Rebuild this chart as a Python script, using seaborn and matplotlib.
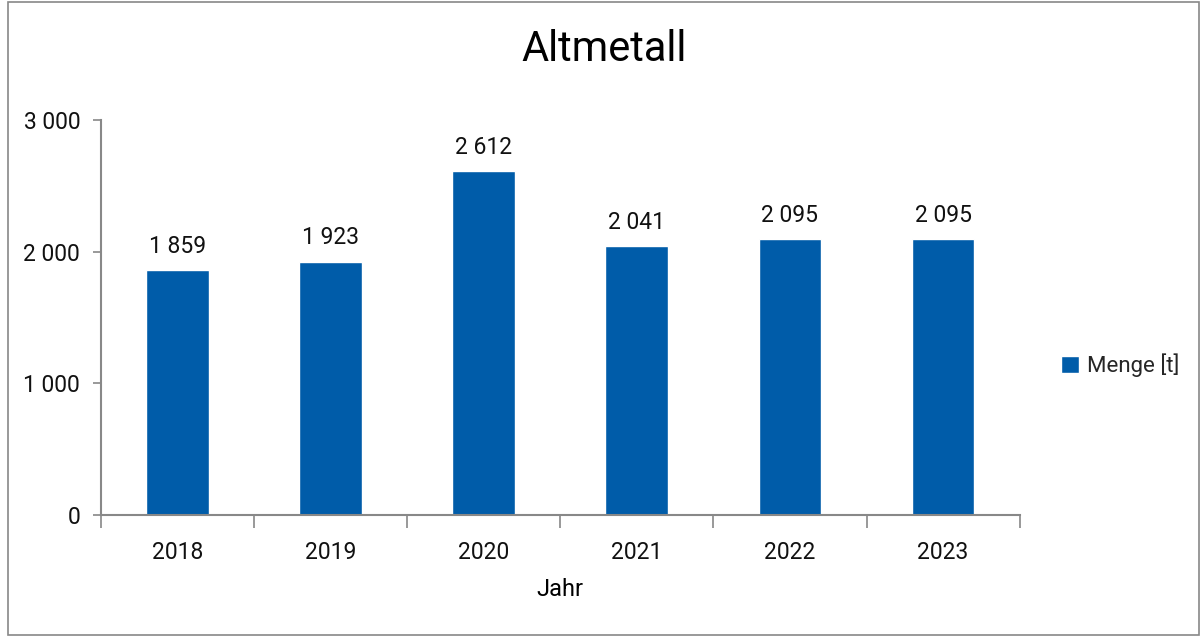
import pandas as pd
import seaborn as sns
import matplotlib.pyplot as plt
from matplotlib.ticker import FuncFormatter, FixedLocator
from matplotlib.patches import Rectangle

# Data
years = ['2018', '2019', '2020', '2021', '2022', '2023']
menge = [1859, 1923, 2612, 2041, 2095, 2095]

data = pd.DataFrame({'Jahr': years, 'Menge [t]': menge})

sns.set_style('white')
plt.rcParams['font.family'] = ['Roboto', 'DejaVu Sans']

fig = plt.figure(figsize=(12.01, 6.37), dpi=100)
ax = fig.add_axes([0.0841, 0.1915, 0.7649, 0.6201])

bar_color = '#005CA9'
sns.barplot(x='Jahr', y='Menge [t]', data=data, color=bar_color, width=0.41,
            saturation=1, label='Menge [t]', ax=ax)

def fmt(v, pos=None):
    return f'{v:,.0f}'.replace(',', ' ')

# value labels
for i, v in enumerate(menge):
    ax.text(i, v + 95, fmt(v), ha='center', va='bottom', fontsize=16.5, color='#111111')

ax.set_ylim(0, 3000)
ax.set_xlim(-0.5, 5.5)
ax.set_yticks([0, 1000, 2000, 3000])
ax.yaxis.set_major_formatter(FuncFormatter(fmt))
ax.tick_params(axis='y', labelsize=16.5, length=6, width=1.2, color='#888888',
               pad=9, labelcolor='#111111', left=True)
ax.tick_params(axis='x', labelsize=16.5, length=0, pad=19, labelcolor='#111111')
# tick marks between categories
ax.xaxis.set_minor_locator(FixedLocator([i - 0.5 for i in range(len(years) + 1)]))
ax.tick_params(axis='x', which='minor', length=9, width=1.2, color='#888888', bottom=True)

for side in ['top', 'right']:
    ax.spines[side].set_visible(False)
for side in ['left', 'bottom']:
    ax.spines[side].set_color('#888888')
    ax.spines[side].set_linewidth(1.5)

ax.set_ylabel('')
ax.set_xlabel('Jahr', fontsize=17, labelpad=10, color='black')
fig.suptitle('Altmetall', fontsize=30, y=0.955, x=0.503, color='black')

leg = ax.legend(loc='center left', bbox_to_anchor=(1.023, 0.38), frameon=False,
                fontsize=16, handlelength=0.8, handleheight=0.8, handletextpad=0.4)

# figure border
fig.patches.append(Rectangle((0.007, 0.003), 0.991, 0.994, transform=fig.transFigure,
                             fill=False, edgecolor='#888888', linewidth=1.2))

plt.savefig('out.png', dpi=100)
